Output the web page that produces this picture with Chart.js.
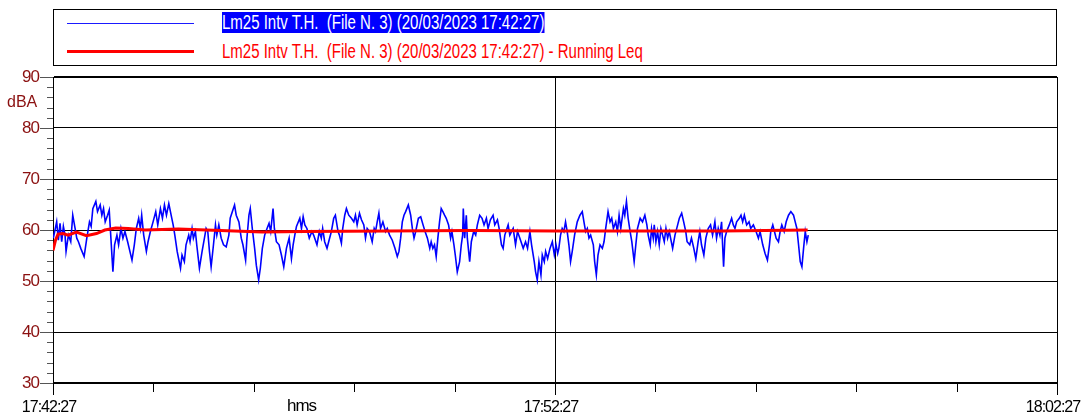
<!DOCTYPE html>
<html>
<head>
<meta charset="utf-8">
<script src="https://cdn.jsdelivr.net/npm/chart.js@4.4.1/dist/chart.umd.min.js"></script>
<style>
    body { margin: 0; background: #fff; }
    #wrap { position: relative; width: 1084px; height: 419px; }
    #chart { position: absolute; left: 0; top: 0; }
    #legend {
        position: absolute; left: 53px; top: 9px; width: 1004px; height: 57px;
        box-sizing: border-box; border: 1px solid #000; background: #fff;
    }
    .swatch { position: absolute; left: 67px; width: 127px; }
    .txt {
        position: absolute; left: 222px; height: 21px; line-height: 21px;
        font-family: "Liberation Sans", Arial, sans-serif; font-size: 20px;
        white-space: pre; transform: scaleX(0.75); transform-origin: 0 0;
    }
</style>
</head>
<body>
<div id="wrap">
    <canvas id="chart" width="1084" height="419"></canvas>
    <div id="legend"></div>
    <div class="swatch" style="top:23px;height:1px;background:#1a1aff"></div>
    <div class="txt" style="top:12px;background:#0000ff;color:#fff">Lm25 Intv T.H.  (File N. 3) (20/03/2023 17:42:27)</div>
    <div class="swatch" style="top:50px;height:3px;background:#ff0000"></div>
    <div class="txt" style="top:41px;color:#ff0000">Lm25 Intv T.H.  (File N. 3) (20/03/2023 17:42:27) - Running Leq</div>
</div>
<script>
// Colors
const colors = {
    blue: '#0000ff',
    red: '#ff0000',
    axisLabel: '#8b1010',
    grid: '#000000',
    tick: '#555555'
};

const fontFamily = '"Liberation Sans", Arial, sans-serif';

// Time in seconds from 17:42:27
const startSeconds = 17 * 3600 + 42 * 60 + 27;
const xTickValues = [0, 120, 240, 360, 480, 600, 720, 840, 960, 1080, 1200];
const xLabelValues = [0, 600, 1200];
const yTickValues = [30, 32, 34, 36, 38, 40, 42, 44, 46, 48, 50, 52, 54, 56, 58, 60, 62, 64, 66, 68, 70, 72, 74, 76, 78, 80, 82, 84, 86, 88, 90];

// Lm25 Intv T.H. (seconds, dBA)
const lmTimes = [
    0.4, 4.4, 6.4, 8.4, 10.4, 12.4, 14.4, 15.6, 18.4, 21.2, 23.6, 26.4, 28.4, 30.4, 33.2, 37.2, 40.4, 43.6, 45.6, 47.6,
    51.2, 53.2, 56.4, 58.4, 60.4, 62.4, 65.2, 67.2, 69.2, 71.6, 73.6, 76.4, 78.4, 81.2, 83.6, 86.0, 89.2, 94.4, 97.2, 99.6,
    102.4, 104.4, 106.0, 108.4, 111.6, 113.6, 116.4, 119.6, 122.8, 125.2, 128.4, 130.8, 133.2, 135.6, 138.4, 141.2, 143.6, 145.6, 148.4, 152.4,
    154.2, 157.0, 159.0, 162.2, 163.8, 166.2, 167.8, 170.2, 171.8, 175.0, 178.2, 181.0, 183.0, 185.0, 187.0, 189.0, 191.8, 194.2, 195.8, 198.2,
    201.0, 203.8, 207.0, 210.2, 211.8, 215.0, 217.0, 219.0, 222.2, 225.0, 227.0, 230.2, 231.8, 234.2, 235.8, 238.2, 241.0, 243.0, 245.8, 247.8,
    250.2, 253.0, 255.8, 258.2, 260.2, 263.0, 264.6, 267.0, 270.2, 273.0, 275.8, 279.0, 282.2, 285.0, 287.0, 289.0, 291.0, 295.0, 297.0, 299.0,
    301.0, 303.5, 306.3, 309.5, 311.5, 315.5, 318.3, 320.7, 322.3, 324.7, 327.5, 329.5, 332.7, 335.5, 337.5, 340.7, 342.3, 344.7, 346.3, 348.7,
    350.7, 353.5, 356.7, 359.5, 361.5, 363.5, 366.3, 368.7, 371.5, 373.5, 375.5, 378.3, 381.5, 383.9, 385.5, 387.5, 389.5, 391.5, 394.3, 397.5,
    399.5, 402.3, 405.5, 408.7, 411.5, 413.5, 415.5, 417.5, 419.5, 421.5, 424.7, 427.5, 429.5, 431.5, 433.5, 436.7, 439.5, 442.3, 444.7, 447.5,
    450.3, 452.0, 454.0, 456.0, 458.0, 460.0, 462.0, 464.0, 466.0, 468.0, 470.0, 472.8, 475.2, 476.8, 479.2, 480.8, 483.2, 486.0, 488.0, 489.6,
    490.4, 492.0, 494.0, 495.2, 498.0, 500.0, 502.8, 505.2, 507.2, 510.0, 512.8, 515.2, 518.0, 520.0, 522.8, 526.0, 528.0, 531.2, 533.2, 536.0,
    538.0, 540.0, 544.0, 546.0, 550.0, 552.8, 555.2, 558.0, 562.0, 564.8, 567.2, 570.0, 572.0, 575.2, 576.8, 578.8, 580.8, 583.2, 584.8, 587.2,
    588.8, 591.2, 594.0, 596.8, 599.2, 601.2, 603.2, 604.6, 606.6, 608.6, 610.6, 612.6, 614.6, 616.6, 618.6, 620.6, 623.4, 626.6, 629.8, 632.6,
    634.6, 636.6, 638.6, 640.6, 642.6, 645.8, 647.4, 649.4, 651.4, 653.8, 656.6, 658.6, 660.6, 663.4, 665.8, 667.8, 669.8, 672.6, 674.6, 676.6,
    678.6, 681.8, 683.4, 685.4, 687.4, 689.8, 691.8, 694.6, 696.6, 698.6, 701.8, 704.6, 707.4, 709.8, 711.4, 713.8, 715.4, 717.4, 718.6, 720.6,
    722.6, 724.6, 726.6, 728.6, 730.6, 732.6, 734.6, 736.6, 740.6, 743.4, 746.6, 748.6, 751.4, 753.8, 756.3, 757.9, 761.1, 763.1, 765.9, 768.3,
    771.1, 773.1, 775.1, 777.9, 780.3, 783.1, 785.9, 788.3, 791.1, 793.1, 795.1, 797.1, 799.1, 800.3, 801.5, 803.1, 805.1, 808.3, 811.1, 813.1,
    815.1, 817.1, 820.3, 822.3, 824.3, 826.3, 829.1, 831.9, 833.9, 837.1, 840.3, 843.1, 845.1, 848.3, 851.1, 853.9, 856.3, 857.9, 860.3, 862.3,
    864.3, 867.1, 869.1, 871.1, 873.9, 876.3, 879.1, 881.9, 885.1, 887.1, 889.1, 891.1, 893.1, 895.1, 897.1, 899.1, 901.1, 902.7
];
const lmValues = [
    58.4, 61.6, 58.0, 61.3, 57.7, 60.7, 59.0, 55.8, 59.0, 57.7, 62.9, 60.3, 58.4, 57.7, 56.4, 54.8, 58.4, 61.6, 60.7, 64.2,
    65.6, 63.6, 64.9, 62.9, 64.2, 61.6, 62.9, 63.9, 58.4, 51.8, 57.1, 59.0, 57.1, 60.3, 58.4, 59.7, 57.7, 54.1, 57.1, 60.3,
    62.3, 60.3, 62.9, 59.0, 55.8, 57.7, 59.7, 61.6, 63.6, 61.0, 64.2, 62.3, 64.9, 62.9, 65.2, 62.9, 61.0, 59.0, 55.8, 52.5,
    55.1, 53.8, 57.1, 59.0, 57.7, 60.3, 58.4, 59.7, 57.1, 52.5, 55.8, 58.4, 60.3, 59.7, 55.8, 52.8, 57.1, 61.0, 59.0, 61.0,
    58.4, 57.1, 56.7, 59.0, 62.3, 63.9, 64.9, 62.9, 61.6, 58.4, 57.1, 54.1, 58.4, 62.9, 64.2, 60.3, 56.4, 53.1, 50.2, 52.5,
    56.4, 59.0, 60.3, 61.3, 59.7, 64.2, 60.3, 57.7, 57.1, 55.1, 52.8, 56.4, 58.4, 54.4, 57.1, 59.0, 60.7, 62.3, 60.3, 62.6,
    61.0, 60.3, 58.4, 59.7, 59.0, 57.1, 59.7, 58.4, 60.3, 57.7, 56.4, 57.7, 59.7, 62.3, 62.9, 59.7, 59.0, 57.4, 60.3, 62.9,
    64.2, 62.9, 62.3, 61.6, 62.9, 61.0, 63.3, 62.0, 61.0, 58.4, 60.3, 59.7, 57.7, 60.3, 59.7, 61.6, 63.3, 60.3, 61.6, 59.7,
    60.3, 59.0, 58.0, 56.4, 54.8, 55.8, 58.4, 61.6, 62.9, 63.6, 64.9, 62.9, 60.3, 58.4, 59.7, 62.3, 62.6, 61.0, 59.7, 58.4,
    56.4, 57.7, 56.4, 57.1, 54.8, 58.4, 61.6, 64.2, 63.6, 62.9, 62.3, 61.0, 58.4, 59.7, 57.1, 55.1, 51.8, 53.8, 57.1, 59.0,
    64.2, 58.4, 62.9, 58.4, 53.8, 57.7, 59.7, 59.0, 61.0, 62.9, 62.3, 61.0, 62.3, 60.3, 62.0, 62.9, 61.0, 62.0, 60.3, 57.1,
    56.4, 59.0, 61.0, 59.0, 60.3, 57.1, 59.7, 58.4, 56.4, 57.7, 56.4, 59.7, 57.1, 53.8, 51.8, 50.2, 53.8, 51.2, 55.1, 53.8,
    55.8, 54.4, 56.4, 57.7, 55.1, 57.1, 55.4, 56.4, 59.0, 60.3, 59.7, 61.6, 59.7, 57.1, 53.8, 55.8, 59.0, 61.6, 62.9, 63.6,
    61.6, 59.7, 60.3, 58.4, 59.0, 57.1, 53.8, 51.2, 55.1, 57.1, 56.4, 57.7, 60.3, 63.6, 61.6, 62.3, 60.3, 61.6, 59.7, 62.9,
    60.3, 64.2, 62.9, 65.6, 62.3, 59.7, 57.7, 53.8, 57.1, 60.3, 62.3, 61.6, 62.9, 61.0, 59.0, 57.1, 60.3, 58.4, 61.0, 57.7,
    59.7, 57.1, 60.3, 59.0, 57.7, 60.3, 58.4, 59.7, 56.4, 59.0, 61.0, 62.3, 63.3, 61.6, 59.7, 57.7, 57.1, 58.4, 56.4, 54.4,
    57.7, 59.7, 57.1, 55.1, 58.4, 60.3, 61.0, 59.0, 61.6, 58.4, 60.3, 59.0, 61.6, 57.1, 52.8, 58.4, 59.7, 61.0, 62.3, 61.0,
    60.3, 61.6, 62.3, 62.9, 61.6, 62.9, 61.0, 61.6, 60.3, 61.0, 59.7, 58.4, 59.7, 57.1, 55.4, 54.1, 57.1, 59.7, 61.0, 59.7,
    58.4, 57.7, 59.7, 61.0, 59.7, 61.6, 62.9, 63.6, 62.9, 61.6, 60.3, 57.1, 53.8, 52.8, 56.4, 59.7, 57.7, 59.0
];

// Running Leq (seconds, dBA)
const leqTimes = [0, 3, 6, 12, 18, 28, 40, 52, 62, 75, 90, 110, 150, 200, 250, 300, 400, 500, 600, 700, 800, 902];
const leqValues = [56.0, 58.0, 59.2, 59.3, 59.0, 59.6, 58.9, 59.3, 60.0, 60.4, 60.3, 60.0, 60.2, 59.9, 59.6, 59.7, 59.8, 59.9, 59.8, 59.8, 59.8, 60.0];

function toPoints(times, values) {
    return times.map((t, i) => ({ x: t, y: values[i] }));
}

function formatTime(sec) {
    const s = startSeconds + sec;
    const h = Math.floor(s / 3600);
    const m = Math.floor((s % 3600) / 60);
    const ss = s % 60;
    return [h, m, ss].map(n => String(n).padStart(2, '0')).join(':');
}

// Tick marks, unit labels, tight text
const decorPlugin = {
    id: 'decor',
    beforeDraw(chart) {
        chart.ctx.letterSpacing = '-1px';
    },
    afterDraw(chart) {
        const ctx = chart.ctx;
        const xs = chart.scales.x;
        const ys = chart.scales.y;
        const area = chart.chartArea;
        ctx.save();
        ctx.strokeStyle = colors.tick;
        ctx.lineWidth = 1;
        yTickValues.forEach(v => {
            const y = Math.round(ys.getPixelForValue(v)) + 0.5;
            const len = v % 10 === 0 ? 13 : 6;
            ctx.beginPath();
            ctx.moveTo(area.left - len, y);
            ctx.lineTo(area.left, y);
            ctx.stroke();
        });
        ctx.strokeStyle = '#000';
        xTickValues.forEach(v => {
            const x = Math.round(xs.getPixelForValue(v)) + 0.5;
            const len = v % 600 === 0 ? 12 : 9;
            ctx.beginPath();
            ctx.moveTo(x, area.bottom);
            ctx.lineTo(x, area.bottom + len);
            ctx.stroke();
        });
        ctx.letterSpacing = '0px';
        ctx.font = '16px ' + fontFamily;
        ctx.fillStyle = colors.axisLabel;
        ctx.textAlign = 'left';
        ctx.textBaseline = 'middle';
        ctx.fillText('dBA', 7, 103);
        ctx.letterSpacing = '-1px';
        ctx.font = '17px ' + fontFamily;
        ctx.fillStyle = '#000';
        ctx.textAlign = 'center';
        ctx.textBaseline = 'top';
        ctx.fillText('hms', xs.getPixelForValue(297), 398);
        ctx.restore();
    }
};

const chart = new Chart(document.getElementById('chart').getContext('2d'), {
    type: 'line',
    data: {
        datasets: [{
            label: 'Lm25 Intv T.H.  (File N. 3) (20/03/2023 17:42:27) - Running Leq',
            data: toPoints(leqTimes, leqValues),
            borderColor: colors.red,
            borderWidth: 3,
            pointRadius: 0,
            tension: 0,
            order: 0
        }, {
            label: 'Lm25 Intv T.H.  (File N. 3) (20/03/2023 17:42:27)',
            data: toPoints(lmTimes, lmValues),
            borderColor: colors.blue,
            borderWidth: 1.6,
            pointRadius: 0,
            tension: 0,
            order: 1
        }]
    },
    options: {
        responsive: false,
        animation: false,
        layout: { padding: { top: 77, right: 27, left: 0, bottom: 0 } },
        plugins: {
            legend: { display: false },
            tooltip: { enabled: false }
        },
        scales: {
            x: {
                type: 'linear',
                min: 0,
                max: 1200,
                afterBuildTicks: scale => { scale.ticks = xTickValues.map(v => ({ value: v })); },
                afterFit: scale => {
                    scale.height = 36;
                    scale.paddingLeft = 0;
                    scale.paddingRight = 0;
                },
                ticks: {
                    autoSkip: false,
                    maxRotation: 0,
                    padding: 15,
                    labelOffset: -4,
                    color: '#000',
                    font: { family: fontFamily, size: 16 },
                    callback: v => xLabelValues.includes(v) ? formatTime(v) : ''
                },
                grid: {
                    drawTicks: false,
                    color: c => (c.tick && c.tick.value % 600 === 0) ? colors.grid : 'rgba(0,0,0,0)',
                    lineWidth: 1
                },
                border: { display: true, color: '#000', width: 1 }
            },
            y: {
                min: 30,
                max: 90,
                afterBuildTicks: scale => { scale.ticks = yTickValues.map(v => ({ value: v })); },
                afterFit: scale => { scale.width = 53; },
                ticks: {
                    autoSkip: false,
                    padding: 14,
                    color: colors.axisLabel,
                    font: { family: fontFamily, size: 17 },
                    callback: v => v % 10 === 0 ? String(v) : ''
                },
                grid: {
                    drawTicks: false,
                    color: c => (c.tick && c.tick.value % 10 === 0) ? colors.grid : 'rgba(0,0,0,0)',
                    lineWidth: c => (c.tick && (c.tick.value === 30 || c.tick.value === 90)) ? 2 : 1
                },
                border: { display: true, color: '#000', width: 1 }
            }
        }
    },
    plugins: [decorPlugin]
});
</script>
</body>
</html>
